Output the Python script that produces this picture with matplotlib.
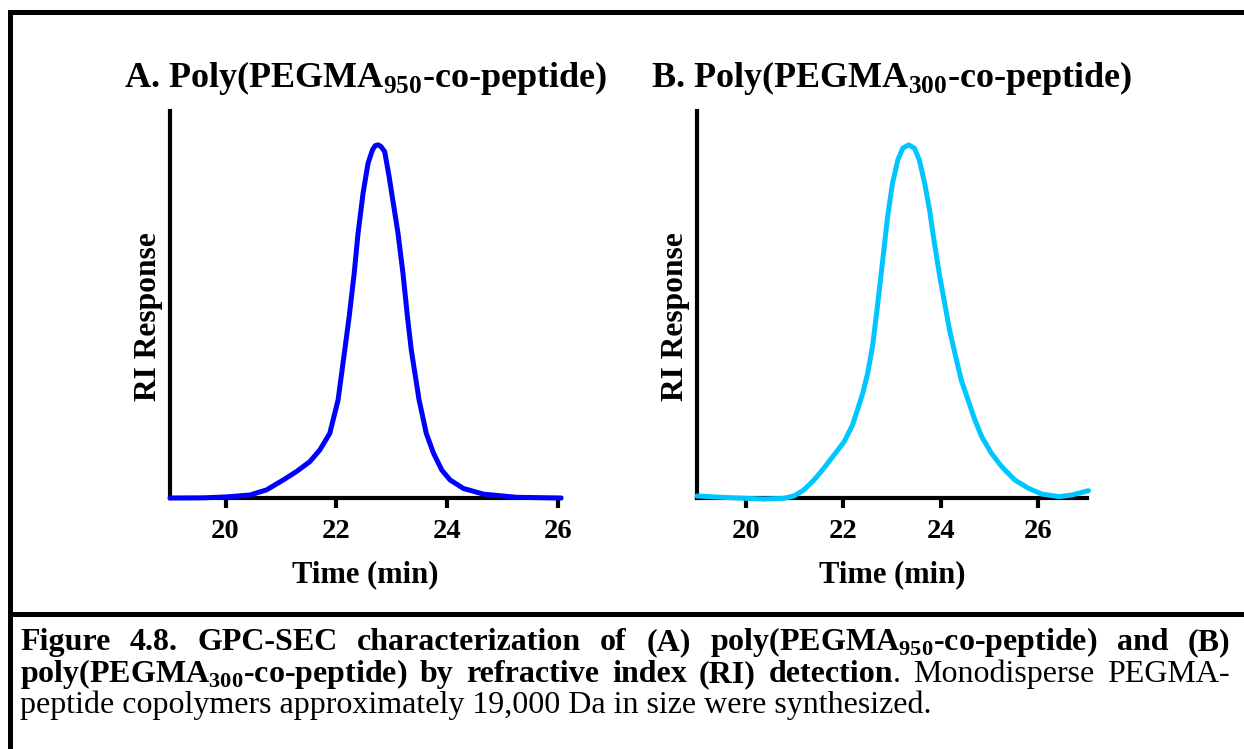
import numpy as np
import matplotlib
matplotlib.use("Agg")
from matplotlib import pyplot as plt

plt.rcParams['font.family'] = ['Liberation Serif', 'DejaVu Serif']
plt.rcParams['mathtext.fontset'] = 'custom'
plt.rcParams['mathtext.rm'] = 'Liberation Serif'
plt.rcParams['mathtext.bf'] = 'Liberation Serif:bold'

# panel A: PEGMA950 trace (peak scaled to 100)
time_a = [19.0, 19.6, 20.0, 20.44, 20.74, 21.04, 21.28, 21.52, 21.70, 21.88,
          22.03, 22.15, 22.23, 22.32, 22.39, 22.48, 22.57, 22.65, 22.70, 22.75,
          22.80, 22.87, 22.95, 23.11, 23.20, 23.28, 23.35, 23.49, 23.62, 23.75,
          23.90, 24.05, 24.29, 24.65, 25.25, 26.05]
ri_a = [0.0, 0.05, 0.3, 0.85, 2.3, 5.1, 7.5, 10.3, 13.6, 18.3,
        27.8, 41.9, 51.4, 63.6, 75.0, 86.3, 94.8, 98.6, 99.8, 100.0,
        99.6, 98.1, 91.0, 75.0, 63.6, 51.4, 41.9, 27.8, 18.3, 12.7,
        7.9, 5.1, 2.7, 1.1, 0.2, 0.0]

# panel B: PEGMA300 trace
time_b = [19.0, 19.68, 20.37, 20.78, 20.99, 21.19, 21.40, 21.60, 21.81, 22.02,
          22.19, 22.29, 22.40, 22.50, 22.60, 22.70, 22.81, 22.91, 23.01, 23.12,
          23.22, 23.34, 23.46, 23.56, 23.67, 23.77, 23.87, 23.98, 24.08, 24.18,
          24.29, 24.42, 24.56, 24.70, 24.84, 25.04, 25.25, 25.52, 25.80, 26.07,
          26.42, 26.69, 27.03]
ri_b = [0.57, 0.09, -0.28, -0.09, 0.57, 2.27, 5.10, 8.40, 12.18, 15.96,
        20.68, 24.93, 29.65, 35.32, 42.87, 54.20, 67.42, 79.70, 89.14, 95.75,
        99.06, 100.0, 99.06, 95.75, 89.14, 81.59, 72.14, 62.70, 55.15, 47.59,
        40.98, 33.43, 27.76, 22.10, 17.37, 12.65, 8.88, 5.10, 2.74, 1.13,
        0.38, 0.85, 2.08]

ticks = [20, 22, 24, 26]
color_a = '#0000FF'
color_b = '#00C6FF'

fig = plt.figure(figsize=(12.44, 7.49), dpi=100)

def panel(rect, t, y, col, xmax, title):
    ax = fig.add_axes(rect)
    ax.plot(t, y, '-', color=col, lw=3.6, solid_joinstyle='round',
            solid_capstyle='round', clip_on=False, zorder=3)
    ax.set_xlim(19, xmax)
    ax.set_ylim(0, 109.6)
    ax.set_xticks(ticks)
    ax.set_yticks([])
    for side in ['top', 'right']:
        ax.spines[side].set_visible(False)
    for side in ['left', 'bottom']:
        ax.spines[side].set_linewidth(3.0)
    ax.tick_params(axis='x', direction='out', length=7, width=3, pad=8,
                   labelsize=20.5)
    for lab in ax.get_xticklabels():
        lab.set_fontweight('bold')
    ax.set_xlabel('Time (min)', fontsize=22, fontweight='bold', labelpad=12)
    ax.set_ylabel('RI Response', fontsize=22.7, fontweight='bold')
    ax.yaxis.set_label_coords(-0.018, 0.468)
    ax.set_title(title, fontsize=26, fontweight='bold', pad=17)
    return ax

panel([0.1367, 0.3351, 0.3143, 0.5167], time_a, ri_a, color_a, 26.05,
      r'A. Poly(PEGMA$_{\mathbf{950}}$-co-peptide)')
panel([0.5603, 0.3351, 0.3135, 0.5167], time_b, ri_b, color_b, 27.0,
      r'B. Poly(PEGMA$_{\mathbf{300}}$-co-peptide)')

# frame lines
W, H = 1244.0, 749.0
fig.add_artist(plt.Line2D([9.5 / W, 1.0], [1 - 11.5 / H] * 2, color='black',
                          lw=3.6, transform=fig.transFigure))
fig.add_artist(plt.Line2D([9.5 / W] * 2, [1 - 11.5 / H, 0.0], color='black',
                          lw=3.6, transform=fig.transFigure))
fig.add_artist(plt.Line2D([9.5 / W, 1.0], [1 - 614 / H] * 2, color='black',
                          lw=3.6, transform=fig.transFigure))

# caption, justified like the original
cap1 = [[('Figure', 'bold')], [('4.8.', 'bold')], [('GPC-SEC', 'bold')],
        [('characterization', 'bold')], [('of', 'bold')], [('(A)', 'bold')],
        [(r'poly(PEGMA$_{\mathbf{950}}$-co-peptide)', 'bold')], [('and', 'bold')],
        [('(B)', 'bold')]]
cap2 = [[(r'poly(PEGMA$_{\mathbf{300}}$-co-peptide)', 'bold')], [('by', 'bold')],
        [('refractive', 'bold')], [('index', 'bold')], [('(RI)', 'bold')],
        [('detection', 'bold'), ('.', 'normal')], [('Monodisperse', 'normal')],
        [('PEGMA-', 'normal')]]
cap3 = 'peptide copolymers approximately 19,000 Da in size were synthesized.'

fig.canvas.draw()
rend = fig.canvas.get_renderer()
cap_size = 23

def word_width(segs):
    w = 0
    for s, wt in segs:
        t = fig.text(0, 0, s, fontsize=cap_size, fontweight=wt)
        w += t.get_window_extent(rend).width
        t.remove()
    return w

def justified(words, ybase, x0, x1):
    widths = [word_width(w) for w in words]
    gap = (x1 - x0 - sum(widths)) / (len(words) - 1)
    x = x0
    for segs, ww in zip(words, widths):
        xx = x
        for s, wt in segs:
            t = fig.text(xx / W, 1 - ybase / H, s, fontsize=cap_size,
                         fontweight=wt, va='baseline', ha='left')
            xx += t.get_window_extent(rend).width
        x += ww + gap

justified(cap1, 650, 20, 1230)
justified(cap2, 682, 20, 1230)
fig.text(20 / W, 1 - 713 / H, cap3, fontsize=cap_size, va='baseline', ha='left')

fig.savefig('out.png', dpi=100)
